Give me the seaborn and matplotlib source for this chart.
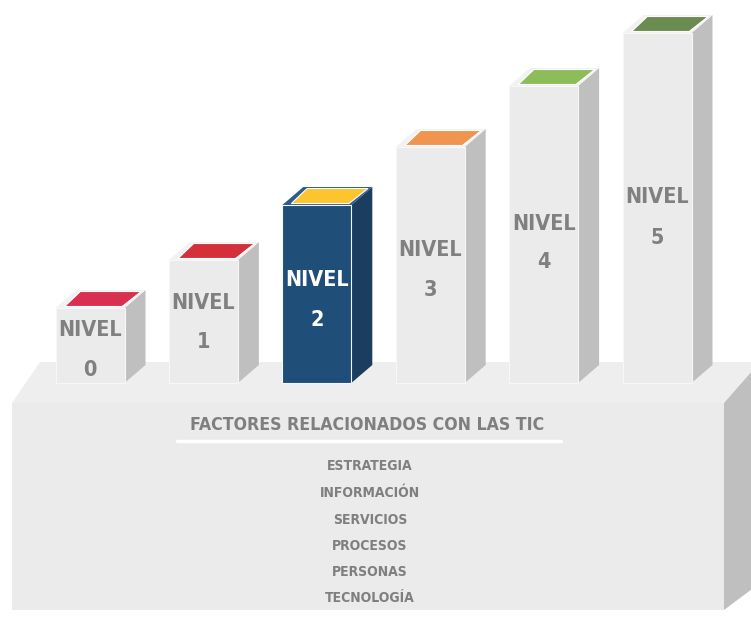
import matplotlib
matplotlib.use("Agg")
import matplotlib.pyplot as plt
import seaborn as sns
import pandas as pd
from matplotlib.patches import Polygon
from matplotlib import font_manager as fm

# ---- data ----
levels = ["0", "1", "2", "3", "4", "5"]
heights = [75, 123, 178, 236, 297, 350]
cap_colors = ["#d9304f", "#d3303a", "#fcc52e", "#f0954f", "#8cbd5a", "#6a8c50"]
front_colors = ["#ebebeb", "#ebebeb", "#1f4e79", "#ebebeb", "#ebebeb", "#ebebeb"]
side_colors = ["#bfbfbf", "#bfbfbf", "#1a3d60", "#bfbfbf", "#bfbfbf", "#bfbfbf"]
top_colors = ["#f2f2f2", "#f2f2f2", "#2b5c8a", "#f2f2f2", "#f2f2f2", "#f2f2f2"]
text_colors = ["#808080", "#808080", "#ffffff", "#808080", "#808080", "#808080"]
title = "FACTORES RELACIONADOS CON LAS TIC"
factors = ["ESTRATEGIA", "INFORMACIÓN", "SERVICIOS", "PROCESOS", "PERSONAS", "TECNOLOGÍA"]

# ---- layout constants ----
PXX = 113.4           # pixels per category unit
X0PX = 90.0           # pixel of first bar center
def px(xp):
    return (xp - X0PX) / PXX
DX = 21 / PXX
DY = 18
nivel_y = [53, 80, 103, 133, 159, 186]
num_y = [13, 41, 63, 93, 121, 145]

sns.set_theme(style="white")
plt.rcParams['font.family'] = ['DejaVu Sans']

cond = fm.FontProperties(family="DejaVu Sans", stretch="condensed", weight="bold")

fig = plt.figure(figsize=(7.51, 6.24), dpi=100)
ax = fig.add_axes([0, 0, 1, 1])

df = pd.DataFrame({"nivel": levels, "altura": heights})
sns.barplot(data=df, x="nivel", y="altura", hue="nivel", palette=front_colors,
            width=69 / PXX, legend=False, ax=ax, saturation=1, zorder=4,
            edgecolor="#f7f7f7", linewidth=0.8)
bars = [pp for pp in ax.patches]

# platform
fx0, fx1 = px(12), px(724)
ax.add_patch(Polygon([(fx0, -227), (fx1, -227), (fx1, -20), (fx0, -20)],
                     closed=True, facecolor="#ebebeb", edgecolor="none", zorder=1))
ax.add_patch(Polygon([(fx0, -20), (px(40), 21), (px(760), 21), (fx1, -20)],
                     closed=True, facecolor="#eeeeee", edgecolor="none", zorder=1))
ax.add_patch(Polygon([(fx1, -20), (px(760), 21), (px(760), -200), (fx1, -227)],
                     closed=True, facecolor="#bfbfbf", edgecolor="none", zorder=1))

for i, p in enumerate(bars):
    x0, w, h = p.get_x(), p.get_width(), p.get_height()
    x1 = x0 + w
    ax.add_patch(Polygon([(x1, 0), (x1 + DX, DY), (x1 + DX, h + DY), (x1, h)],
                         closed=True, facecolor=side_colors[i], edgecolor="none", zorder=3))
    ax.add_patch(Polygon([(x0, h), (x0 + DX, h + DY), (x1 + DX, h + DY), (x1, h)],
                         closed=True, facecolor=top_colors[i], edgecolor="none", zorder=3))
    ix = 0.08
    ax.add_patch(Polygon([(x0 + ix, h + 1.5), (x0 + ix + DX * 0.75, h + DY - 1.5),
                          (x1 + DX * 0.85 - 0.01, h + DY - 1.5), (x1 - 0.02, h + 1.5)],
                         closed=True, facecolor=cap_colors[i], edgecolor="white",
                         linewidth=0.8, zorder=5))
    cx = x0 + w / 2
    lp = cond.copy(); lp.set_size(15.5)
    ax.text(cx, nivel_y[i], "NIVEL", ha="center", va="center",
            fontproperties=lp, color=text_colors[i], zorder=6)
    ax.text(cx, num_y[i], levels[i], ha="center", va="center",
            fontproperties=lp, color=text_colors[i], zorder=6)

# platform text
tp = cond.copy(); tp.set_size(12.7)
ax.text(px(367), 383 - 425, title, ha="center", va="center",
        fontproperties=tp, color="#7f7f7f", zorder=6)
ax.plot([px(177), px(561)], [383 - 441, 383 - 441], color="white", lw=2.5, zorder=6)
fp = cond.copy(); fp.set_size(10)
fy = [466, 493, 520, 546, 572, 598]
for t, yy in zip(factors, fy):
    ax.text(px(370), 383 - yy, t, ha="center", va="center",
            fontproperties=fp, color="#7f7f7f", zorder=6)

ax.set_xlim(px(0), px(751))
ax.set_ylim(-241, 383)
ax.axis("off")
fig.savefig("out.png", dpi=100, facecolor="white")
